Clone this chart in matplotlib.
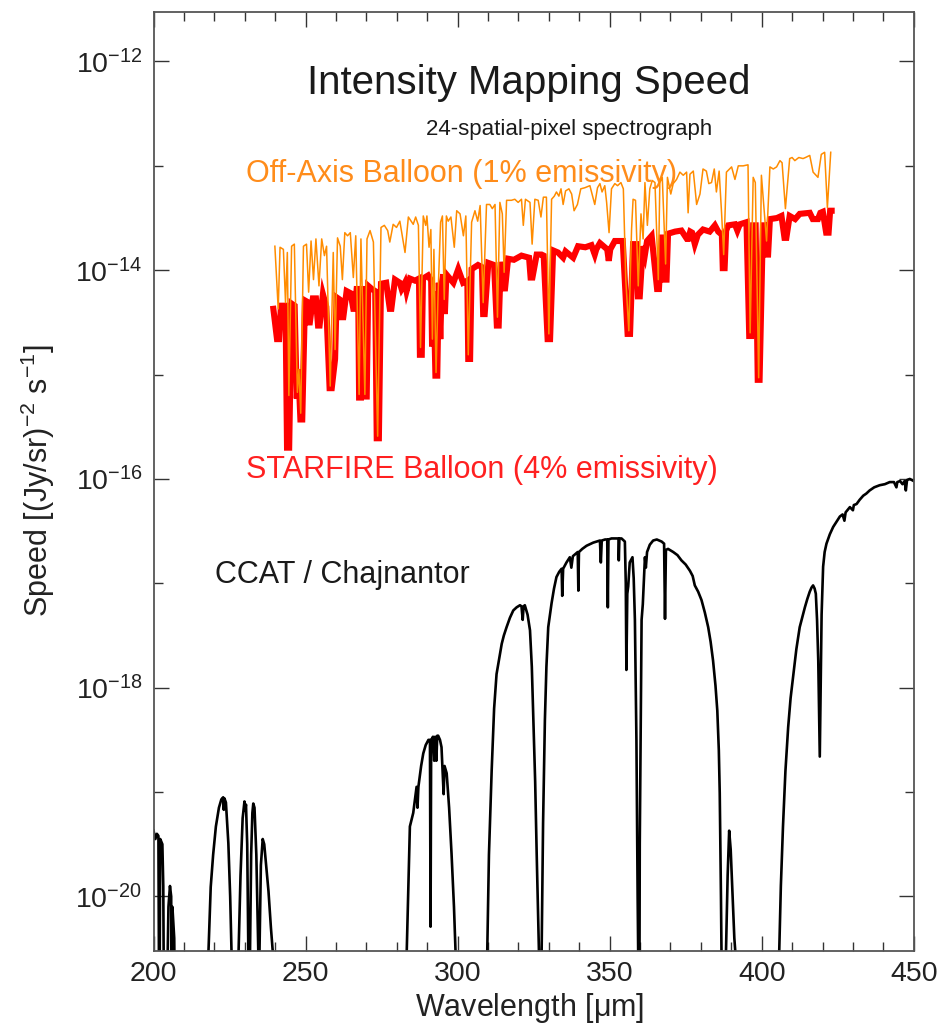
import numpy as np
import matplotlib
matplotlib.use("Agg")
import matplotlib.pyplot as plt
from matplotlib.ticker import NullFormatter, FixedLocator

plt.rcParams['font.family'] = ['Liberation Sans', 'DejaVu Sans']
plt.rcParams['mathtext.fontset'] = 'custom'
plt.rcParams['mathtext.rm'] = 'Liberation Sans'
plt.rcParams['mathtext.it'] = 'Liberation Sans:italic'
plt.rcParams['mathtext.default'] = 'regular'

# ---------------- data (wavelength in micron, log10 speed) ----------------
starfire_wl = [239.4, 240.6, 241.3, 241.9, 243.4, 243.9, 244.6, 245.4, 246.4, 247.1, 247.6, 248.3, 248.9,
               249.8, 250.4, 250.8, 251.4, 252.4, 253.4, 254.1, 254.6, 255.7, 256.8, 257.9, 258.6, 259.7,
               260.2, 261.2, 261.9, 262.4, 263.5, 264.8, 265.7, 266.2, 266.8, 267.3, 267.6, 268.2, 268.6,
               269.2, 269.5, 270.1, 270.6, 271.8, 272.9, 273.4, 274.1, 274.8, 276.5, 277.7, 278.2, 279.4,
               281.0, 281.6, 282.2, 282.7, 283.2, 284.3, 286.0, 287.3, 287.6, 288.2, 288.6, 290.3, 291.3,
               291.6, 292.1, 292.7, 293.3, 293.8, 294.3, 294.8, 295.3, 295.8, 296.3, 298.6, 300.2, 301.8,
               303.2, 303.5, 304.1, 304.6, 306.7, 308.0, 308.4, 308.9, 310.1, 312.0, 312.9, 313.5, 314.2,
               315.5, 316.6, 318.5, 321.0, 323.5, 324.0, 324.6, 326.0, 327.6, 328.3, 329.6, 330.4, 331.4,
               333.0, 334.7, 335.5, 338.0, 339.6, 342.0, 344.0, 345.1, 345.6, 346.8, 349.2, 349.7, 350.2,
               351.7, 354.3, 355.9, 356.7, 357.7, 358.8, 359.3, 359.9, 360.9, 361.6, 362.3, 363.8, 365.6,
               366.2, 367.2, 368.2, 368.7, 369.2, 371.5, 373.6, 375.4, 375.8, 376.5, 377.1, 378.0, 379.0,
               380.7, 382.9, 384.6, 385.7, 386.9, 387.2, 387.8, 388.3, 389.0, 391.2, 392.0, 392.8, 395.0,
               395.9, 396.5, 397.2, 398.0, 398.7, 399.3, 400.4, 401.2, 401.6, 402.1, 402.7, 405.0, 406.5,
               407.5, 408.1, 409.2, 411.0, 412.5, 415.8, 416.8, 418.5, 419.3, 420.1, 421.2, 422.0, 422.5,
               423.0]
starfire_log = [-14.37, -14.66, -14.66, -14.34, -14.34, -15.70, -15.70, -14.32, -14.34, -15.23, -14.95, -15.43, -15.43,
                -14.29, -14.30, -14.50, -14.50, -14.27, -14.27, -14.53, -14.53, -14.23, -14.35, -15.13, -15.13, -14.85,
                -14.26, -14.28, -14.45, -14.45, -14.20, -14.22, -14.37, -14.37, -14.18, -14.18, -15.22, -15.22, -14.18,
                -14.18, -15.21, -15.21, -14.15, -14.18, -14.20, -15.61, -15.61, -14.13, -14.12, -14.37, -14.37, -14.09,
                -14.12, -14.18, -14.15, -14.12, -14.20, -14.08, -14.10, -14.08, -14.81, -14.81, -14.08, -14.05, -14.10,
                -14.73, -14.20, -15.01, -15.01, -14.12, -14.66, -14.12, -14.04, -14.42, -14.04, -14.12, -13.99, -14.12,
                -14.10, -14.85, -14.85, -13.99, -13.95, -13.97, -14.42, -14.42, -13.93, -13.95, -14.53, -14.53, -13.92,
                -14.20, -13.89, -13.90, -13.86, -13.88, -14.07, -14.07, -13.85, -13.85, -13.86, -14.66, -14.66, -13.81,
                -13.83, -13.88, -13.82, -13.88, -13.77, -13.78, -13.76, -13.85, -13.80, -13.74, -13.80, -13.91, -13.80,
                -13.72, -13.72, -14.61, -14.61, -13.75, -13.75, -14.25, -14.25, -13.77, -13.85, -13.72, -13.67, -14.18,
                -14.18, -13.66, -14.09, -14.09, -13.65, -13.63, -13.62, -13.70, -13.70, -13.63, -13.64, -13.75, -13.66,
                -13.61, -13.63, -13.57, -13.63, -13.66, -13.98, -13.98, -13.62, -13.57, -13.56, -13.62, -13.56, -13.54,
                -14.63, -14.63, -13.57, -13.57, -15.05, -15.05, -13.57, -13.57, -13.85, -13.85, -13.51, -13.50, -13.48,
                -13.69, -13.69, -13.48, -13.51, -13.46, -13.45, -13.51, -13.51, -13.45, -13.44, -13.64, -13.64, -13.43,
                -13.43]

offaxis_wl = [239.9, 241.0, 241.6, 242.7, 243.4, 244.0, 244.5, 245.4, 246.3, 247.3, 247.8, 248.4, 249.3,
              250.3, 251.0, 251.8, 252.6, 253.4, 254.4, 255.3, 256.2, 256.9, 258.1, 259.1, 259.7, 260.5,
              261.4, 262.1, 262.9, 263.8, 264.7, 265.7, 266.5, 267.6, 268.2, 269.5, 270.2, 271.2, 272.3,
              273.7, 274.8, 275.9, 277.0, 277.7, 278.8, 279.9, 281.0, 282.7, 283.8, 285.4, 286.2, 287.1,
              287.8, 288.7, 289.5, 289.9, 290.6, 291.2, 291.7, 292.2, 292.9, 293.6, 294.4, 295.0, 295.6,
              296.3, 296.9, 297.8, 298.9, 299.7, 300.8, 301.9, 302.7, 303.5, 304.6, 305.7, 306.6, 307.4,
              308.4, 309.5, 310.6, 311.4, 312.3, 313.1, 313.9, 314.7, 315.3, 316.1, 317.7, 318.8, 319.9,
              321.0, 321.6, 322.3, 323.8, 324.5, 325.4, 326.5, 327.4, 328.2, 329.2, 330.0, 330.9, 331.8,
              332.5, 333.3, 334.0, 334.7, 335.5, 336.6, 337.5, 338.3, 339.4, 340.5, 341.8, 343.5, 345.1,
              346.0, 346.8, 347.5, 348.4, 349.0, 349.8, 350.6, 351.7, 352.6, 353.7, 354.5, 355.3, 356.3,
              357.2, 357.7, 358.5, 359.4, 360.3, 361.0, 361.6, 362.4, 363.2, 364.0, 364.9, 366.0, 366.5,
              367.3, 368.4, 369.0, 370.1, 370.9, 372.0, 373.1, 374.2, 375.3, 375.8, 376.4, 377.5, 378.6,
              379.7, 380.7, 381.8, 382.6, 383.5, 384.4, 385.1, 386.0, 386.8, 387.5, 388.4, 390.1, 391.2,
              392.3, 393.9, 395.5, 396.2, 397.2, 397.9, 399.0, 399.9, 401.6, 402.7, 403.8, 404.9, 406.0,
              406.7, 407.8, 409.2, 410.0, 410.9, 412.2, 413.6, 414.4, 415.8, 416.9, 418.5, 419.6, 420.7,
              421.6, 422.7]
offaxis_log = [-13.77, -14.37, -13.78, -13.80, -14.31, -13.83, -15.20, -13.77, -13.75, -15.17, -14.95, -15.37, -13.77,
               -13.75, -14.21, -13.72, -14.09, -13.70, -14.15, -13.70, -13.86, -13.77, -15.11, -13.83, -14.76, -13.69,
               -13.77, -14.09, -13.64, -13.67, -13.64, -14.07, -13.67, -15.19, -13.70, -15.19, -13.70, -13.62, -13.73,
               -15.59, -13.59, -13.57, -13.62, -13.73, -13.56, -13.59, -13.53, -13.83, -13.49, -13.56, -13.49, -13.57,
               -14.74, -13.48, -13.57, -13.48, -13.78, -13.61, -14.66, -13.80, -14.98, -14.20, -13.54, -13.48, -14.28,
               -13.48, -13.53, -13.49, -13.78, -13.43, -13.46, -13.67, -13.48, -14.81, -13.54, -13.43, -13.53, -13.38,
               -14.31, -13.37, -13.37, -13.41, -13.37, -14.45, -13.35, -13.46, -14.02, -13.33, -13.33, -13.32, -13.35,
               -13.32, -13.57, -13.32, -13.35, -13.75, -13.32, -13.33, -13.49, -13.30, -13.30, -14.61, -13.32, -13.29,
               -13.25, -13.29, -13.22, -13.37, -13.24, -13.22, -13.27, -13.43, -13.37, -13.22, -13.21, -13.19, -13.37,
               -13.21, -13.17, -13.25, -13.19, -13.35, -13.64, -13.22, -13.17, -13.19, -13.16, -13.22, -14.09, -14.58,
               -13.61, -13.32, -13.33, -14.15, -13.46, -13.70, -13.16, -13.57, -13.22, -13.14, -13.16, -14.09, -13.16,
               -13.11, -13.94, -13.11, -13.27, -13.17, -13.13, -13.06, -13.09, -13.06, -13.45, -13.08, -13.05, -13.37,
               -13.27, -13.03, -13.05, -13.17, -13.16, -13.03, -13.25, -13.05, -13.45, -13.85, -13.06, -13.01, -13.13,
               -13.00, -13.00, -12.99, -14.60, -13.11, -13.16, -15.03, -13.09, -13.72, -13.01, -13.03, -13.01, -12.95,
               -12.97, -13.41, -12.93, -12.92, -12.95, -12.92, -12.93, -12.92, -12.90, -13.06, -13.11, -12.89, -12.87,
               -13.40, -12.87]

ccat_wl = [200.0, 200.6, 201.1, 201.6, 201.9, 202.2, 202.9, 203.2, 203.5, 204.2, 204.4, 204.9, 205.4, 205.8,
           206.0, 206.2, 206.8, 207.2, 210.0, 216.5, 217.5, 218.8, 219.6, 220.5, 221.5, 222.3, 222.9, 223.1,
           223.3, 223.8, 224.6, 225.2, 225.7, 226.5, 227.3, 227.9, 228.6, 229.3, 229.9, 230.1, 230.4, 230.8,
           231.2, 231.5, 231.7, 232.1, 232.5, 232.8, 233.2, 233.8, 234.5, 234.65, 234.8, 235.3, 235.9, 236.4,
           237.0, 237.8, 238.6, 239.4, 240.0, 282.5, 283.2, 283.8, 284.3, 285.4, 286.5, 286.8, 287.1, 288.0,
           288.7, 289.5, 290.4, 290.9, 291.1, 291.3, 291.9, 292.3, 292.6, 293.0, 293.3, 293.6, 294.2, 294.7,
           295.4, 295.7, 296.4, 297.2, 298.0, 298.8, 299.4, 300.0, 309.0, 309.7, 310.3, 311.2, 312.0, 312.8,
           313.5, 314.5, 315.2, 316.1, 317.2, 318.3, 319.4, 320.5, 321.0, 321.4, 321.7, 322.1, 323.0, 323.8,
           324.4, 324.9, 325.5, 326.0, 326.8, 327.2, 327.6, 328.1, 328.7, 329.2, 329.8, 330.9, 331.7, 332.5,
           333.4, 334.2, 334.4, 334.7, 335.8, 336.9, 337.4, 337.9, 339.5, 339.7, 339.9, 341.0, 342.4, 344.6,
           346.8, 347.1, 347.4, 348.5, 349.2, 349.4, 349.6, 350.6, 352.0, 352.9, 353.0, 353.2, 353.9, 355.0,
           355.3, 355.5, 355.8, 356.1, 356.6, 357.5, 357.9, 358.3, 358.8, 359.2, 359.4, 359.7, 359.9, 360.3,
           360.5, 360.9, 361.2, 361.6, 361.9, 362.3, 363.2, 364.3, 365.5, 367.1, 367.9, 368.2, 368.5, 369.2,
           370.9, 372.3, 373.6, 375.0, 376.4, 377.3, 378.0, 379.1, 380.2, 381.3, 382.4, 383.2, 384.0, 384.8,
           385.4, 385.9, 386.2, 386.6, 386.8, 387.5, 388.0, 388.2, 388.8, 389.3, 389.8, 390.4, 391.0, 391.5,
           392.0, 405.0, 405.7, 406.3, 407.0, 407.8, 408.7, 409.5, 410.3, 411.4, 412.5, 413.3, 414.2, 415.0,
           415.8, 416.4, 416.9, 417.4, 417.8, 418.2, 418.6, 419.1, 419.4, 419.7, 420.2, 420.7, 421.3, 422.4,
           423.5, 424.6, 425.7, 426.6, 427.2, 427.6, 429.0, 430.0, 430.3, 431.2, 432.2, 433.4, 434.4, 435.5,
           437.0, 438.8, 440.5, 442.1, 443.5, 444.3, 444.6, 445.5, 446.3, 447.0, 447.4, 447.8, 448.7, 450.0]
ccat_log = [-19.37, -19.45, -19.40, -19.42, -21.5, -19.45, -19.50, -19.90, -21.5, -22.0, -21.0, -20.10, -19.90, -20.00,
            -21.0, -20.10, -20.40, -21.5, -22.0, -22.0, -21.0, -19.91, -19.60, -19.33, -19.15, -19.07, -19.05, -19.17,
            -19.06, -19.10, -19.49, -20.00, -20.60, -22.0, -22.0, -20.60, -19.80, -19.25, -19.09, -19.18, -19.12, -19.50,
            -20.60, -22.0, -20.60, -19.60, -19.20, -19.11, -19.15, -19.60, -20.60, -22.0, -20.60, -19.70, -19.45, -19.50,
            -19.69, -19.95, -20.30, -20.60, -22.0, -22.0, -20.60, -19.90, -19.33, -19.20, -18.95, -19.15, -18.95, -18.75,
            -18.63, -18.55, -18.50, -18.50, -20.29, -18.50, -18.47, -18.70, -18.47, -18.70, -18.46, -18.46, -18.50, -18.57,
            -19.02, -18.75, -18.82, -19.15, -19.59, -20.10, -20.60, -22.0, -22.0, -20.60, -19.60, -18.79, -18.20, -17.87,
            -17.75, -17.58, -17.50, -17.42, -17.33, -17.26, -17.23, -17.21, -17.22, -17.35, -17.22, -17.21, -17.30, -17.45,
            -17.80, -18.31, -18.90, -19.59, -20.60, -22.0, -20.60, -19.30, -18.31, -17.80, -17.42, -17.19, -17.05, -16.94,
            -16.89, -16.86, -17.12, -16.86, -16.80, -16.75, -16.85, -16.74, -16.70, -17.07, -16.70, -16.67, -16.64, -16.61,
            -16.59, -16.80, -16.59, -16.58, -16.58, -17.23, -16.58, -16.57, -16.57, -16.57, -16.78, -16.57, -16.57, -16.60,
            -17.00, -17.83, -17.10, -17.03, -16.80, -16.75, -16.95, -17.35, -18.50, -20.00, -20.60, -22.0, -19.50, -18.00,
            -17.35, -17.20, -17.00, -16.75, -16.85, -16.70, -16.63, -16.59, -16.58, -16.60, -16.62, -17.34, -16.68, -16.67,
            -16.70, -16.73, -16.78, -16.82, -16.88, -16.93, -17.02, -17.08, -17.16, -17.28, -17.42, -17.56, -17.74, -17.98,
            -18.22, -18.60, -19.01, -20.00, -20.60, -22.0, -22.0, -20.60, -19.80, -19.37, -19.55, -19.97, -20.40, -20.60,
            -22.0, -22.0, -20.60, -19.90, -19.33, -18.80, -18.38, -18.10, -17.90, -17.63, -17.42, -17.33, -17.23, -17.15,
            -17.08, -17.04, -17.02, -17.05, -17.10, -17.35, -17.74, -18.66, -18.00, -17.30, -16.84, -16.70, -16.62, -16.53,
            -16.46, -16.41, -16.36, -16.34, -16.40, -16.32, -16.27, -16.30, -16.25, -16.24, -16.20, -16.16, -16.14, -16.11,
            -16.08, -16.06, -16.05, -16.03, -16.03, -16.08, -16.03, -16.02, -16.05, -16.02, -16.11, -16.01, -16.00, -16.02]

x_major = [200, 250, 300, 350, 400, 450]
y_major = [1e-20, 1e-18, 1e-16, 1e-14, 1e-12]
y_major_labels = [r'$10^{-20}$', r'$10^{-18}$', r'$10^{-16}$', r'$10^{-14}$', r'$10^{-12}$']
y_minor = [1e-19, 1e-17, 1e-15, 1e-13]

# ---------------- figure ----------------
fig = plt.figure(figsize=(9.42, 10.26), dpi=100)
ax = fig.add_axes([0.163, 0.0731, 0.807, 0.9155])

ax.plot(starfire_wl, np.power(10.0, starfire_log), color='#ff0000', lw=4.4, solid_joinstyle='miter', zorder=3)
ax.plot(offaxis_wl, np.power(10.0, offaxis_log), color='#ff8c00', lw=1.1, zorder=4)
ax.plot(ccat_wl, np.power(10.0, ccat_log), color='black', lw=1.9, zorder=2)

ax.set_yscale('log')
ax.set_xlim(200, 450)
ax.set_ylim(3e-21, 3e-12)

ax.xaxis.set_major_locator(FixedLocator(x_major))
ax.xaxis.set_minor_locator(FixedLocator(list(range(200, 451, 10))))
ax.yaxis.set_major_locator(FixedLocator(y_major))
ax.yaxis.set_minor_locator(FixedLocator(y_minor))
ax.yaxis.set_minor_formatter(NullFormatter())
ax.set_yticklabels(y_major_labels)
ax.set_xticklabels([str(v) for v in x_major])

ax.tick_params(which='both', direction='in', top=True, right=True, colors='#333333',
               labelcolor='#222222', labelsize=20.5)
ax.tick_params(which='major', length=11, width=1.0)
ax.tick_params(which='minor', length=6.5, width=1.0)
ax.tick_params(axis='x', pad=7)
ax.tick_params(axis='y', pad=8)
for s in ax.spines.values():
    s.set_color('#555555')
    s.set_linewidth(1.3)

# ---------------- text ----------------
ax.text(250.5, 10**-12.307, 'Intensity Mapping Speed', fontsize=29, color='#1a1a1a', ha='left', va='baseline')
ax.text(289.6, 10**-12.70, '24-spatial-pixel spectrograph', fontsize=16, color='#1a1a1a', ha='left', va='baseline')
ax.text(230.4, 10**-13.159, 'Off-Axis Balloon (1% emissivity)', fontsize=22, color='#ff8c1a', ha='left', va='baseline')
ax.text(230.4, 10**-15.994, 'STARFIRE Balloon (4% emissivity)', fontsize=22, color='#ff2020', ha='left', va='baseline')
ax.text(220.2, 10**-17.0, 'CCAT / Chajnantor', fontsize=22, color='#1a1a1a', ha='left', va='baseline')

fig.text(38 / 942, 1 - 481 / 1026, r'Speed [(Jy/sr)$^{-2}$ s$^{-1}$]', rotation=90, fontsize=22,
         color='#222222', ha='center', va='center')
fig.text(530 / 942, 1 - 1008 / 1026, r'Wavelength [$\mu$m]', fontsize=22, color='#222222',
         ha='center', va='center')

fig.savefig('out.png', dpi=100)
